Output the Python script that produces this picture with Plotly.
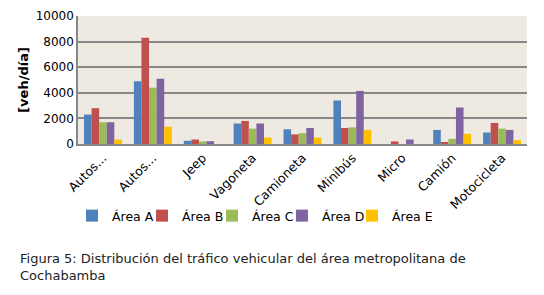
import plotly.graph_objects as go

categories = ["Autos...", "Autos...", "Jeep", "Vagoneta", "Camioneta", "Minibús", "Micro", "Camión", "Motocicleta"]
area_a = [2300, 4900, 250, 1600, 1150, 3400, 0, 1100, 900]
area_b = [2800, 8300, 350, 1800, 750, 1250, 200, 100, 1650]
area_c = [1700, 4400, 200, 1200, 850, 1300, 0, 400, 1200]
area_d = [1700, 5100, 220, 1600, 1250, 4150, 350, 2850, 1100]
area_e = [350, 1350, 0, 500, 500, 1100, 0, 800, 300]
series_names = ["Área A", "Área B", "Área C", "Área D", "Área E"]
series_values = [area_a, area_b, area_c, area_d, area_e]
colors = ["#4F81BD", "#C0504D", "#9BBB59", "#8064A2", "#FFC000"]
y_ticks = [0, 2000, 4000, 6000, 8000, 10000]

x_idx = list(range(len(categories)))
font = "DejaVu Sans, Verdana, sans-serif"

fig = go.Figure()
legend_names = ["legend", "legend2", "legend3", "legend4", "legend5"]
for i, (name, vals, col) in enumerate(zip(series_names, series_values, colors)):
    fig.add_trace(go.Bar(x=x_idx, y=vals, name=name, marker_color=col,
                         marker_line_width=0, legend=legend_names[i]))

legend_common = dict(orientation="h", yref="container", y=1 - 216 / 295, xanchor="left",
                     yanchor="middle", font=dict(size=12.5), bgcolor="rgba(0,0,0,0)",
                     itemwidth=30, xref="container")
layout_legends = {}
for i, ln in enumerate(legend_names):
    layout_legends[ln] = dict(legend_common, x=(72 + 70 * i) / 544)

fig.update_layout(
    width=544, height=295,
    margin=dict(l=78, r=17, t=16, b=151, autoexpand=False),
    paper_bgcolor="white",
    plot_bgcolor="#EEE9E1",
    barmode="group", bargap=0.24, bargroupgap=0,
    font=dict(family=font, size=12, color="black"),
    showlegend=True,
    annotations=[dict(text="Figura 5: Distribución del tráfico vehicular del área metropolitana de<br>Cochabamba",
                      xref="paper", yref="paper", x=-60 / 449, y=-(249 - 144) / 128, xanchor="left",
                      yanchor="top", align="left", showarrow=False,
                      font=dict(size=13, color="#222"))],
    **layout_legends,
)
fig.update_xaxes(tickmode="array", tickvals=x_idx, ticktext=categories, tickangle=-45,
                 range=[-0.5, len(categories) - 0.5], showline=True, linecolor="#888",
                 linewidth=1.5, ticks="", tickfont=dict(size=12.5), automargin=False)
fig.update_yaxes(range=[0, 10000], tickvals=y_ticks, ticktext=[str(v) for v in y_ticks],
                 showgrid=True, gridcolor="#888",
                 gridwidth=1.5, showline=True, linecolor="#888", linewidth=1.5,
                 zeroline=False, tickfont=dict(size=12), automargin=False,
                 title=dict(text="<b>[veh/día]</b>", font=dict(size=13), standoff=4))

fig.write_html("out.html", config={"displayModeBar": False},
               post_script="document.body.style.margin='0';")
